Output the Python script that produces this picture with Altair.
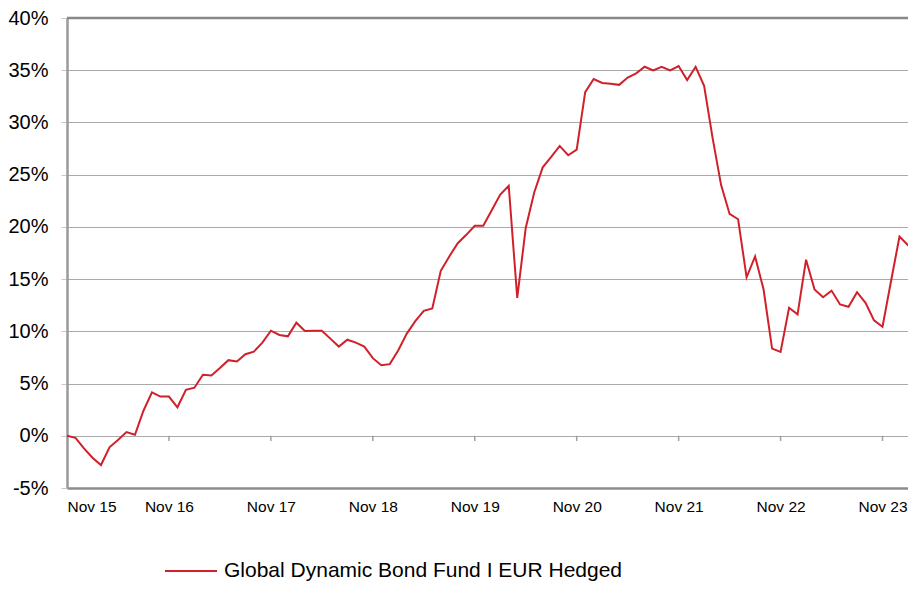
import altair as alt
import pandas as pd

# monthly cumulative performance (%), Nov 2015 .. Mar 2024
values = [
    0.0, -0.2, -1.2, -2.1, -2.8, -1.1, -0.4, 0.35, 0.1, 2.4,
    4.16, 3.75, 3.75, 2.73, 4.4, 4.6, 5.84, 5.78, 6.48, 7.24,
    7.11, 7.81, 8.06, 8.92, 10.06, 9.65, 9.52, 10.83, 10.03, 10.05,
    10.06, 9.3, 8.54, 9.2, 8.92, 8.54, 7.43, 6.76, 6.86, 8.19,
    9.78, 10.98, 11.97, 12.19, 15.8, 17.17, 18.44, 19.24, 20.1, 20.1,
    21.6, 23.1, 23.94, 13.2, 19.9, 23.3, 25.7, 26.7, 27.75, 26.86,
    27.4, 32.9, 34.16, 33.78, 33.7, 33.6, 34.3, 34.7, 35.33, 34.98,
    35.33, 34.98, 35.4, 34.06, 35.33, 33.5, 28.5, 24.0, 21.24, 20.73,
    15.17, 17.17, 14.0, 8.35, 8.03, 12.25, 11.62, 16.86, 14.0, 13.27,
    13.9, 12.57, 12.35, 13.75, 12.73, 11.05, 10.44, 14.8, 19.08, 18.25,
    18.25,
]
series_name = "Global Dynamic Bond Fund I EUR Hedged"
tick_months = [0, 12, 24, 36, 48, 60, 72, 84, 96]
tick_labels = ["Nov 15", "Nov 16", "Nov 17", "Nov 18", "Nov 19",
               "Nov 20", "Nov 21", "Nov 22", "Nov 23"]
y_ticks = [-5, 0, 5, 10, 15, 20, 25, 30, 35, 40]

df = pd.DataFrame({"m": list(range(len(values))), "v": values, "s": series_name})
ticks_df = pd.DataFrame({"m": tick_months[1:], "y0": 0, "y1": -0.5})
top_df = pd.DataFrame({"v": [40]})

label_expr = "{" + ",".join(f"'{m}':'{l}'" for m, l in zip(tick_months, tick_labels)) + "}[datum.value]"

xscale = alt.Scale(domain=[0, 99], nice=False, zero=False)
yscale = alt.Scale(domain=[-5, 40], nice=False)

line = alt.Chart(df).mark_line(strokeWidth=2, clip=True).encode(
    x=alt.X("m:Q", scale=xscale,
            axis=alt.Axis(values=tick_months, labelExpr=label_expr, title=None,
                          grid=False, ticks=False, domain=True, domainColor="#8c8c8c",
                          domainWidth=2.5, labelFontSize=15.5, labelPadding=11,
                          labelColor="#000", labelFont="Liberation Sans")),
    y=alt.Y("v:Q", scale=yscale,
            axis=alt.Axis(values=y_ticks, format="d", labelExpr="datum.value + '%'",
                          title=None, grid=True, gridColor="#aaaaaa", gridWidth=1,
                          ticks=True, tickSize=6, tickColor="#c8c8c8", domain=True,
                          domainColor="#9a9a9a", domainWidth=2.5, labelFontSize=20,
                          labelPadding=13, labelColor="#000", labelFont="Liberation Sans")),
    color=alt.Color("s:N", scale=alt.Scale(range=["#d0212a"]),
                    legend=alt.Legend(title=None, orient="none", legendX=97, legendY=526,
                                      symbolType="stroke", symbolSize=2704,
                                      symbolStrokeWidth=2, symbolStrokeColor="#d0212a",
                                      labelFontSize=21,
                                      labelFont="Liberation Sans", labelColor="#000",
                                      labelOffset=6, labelLimit=800)),
)

tick_marks = alt.Chart(ticks_df).mark_rule(color="#a0a0a0", strokeWidth=1.5).encode(
    x="m:Q", y="y0:Q", y2="y1:Q"
)

top_border = alt.Chart(top_df).mark_rule(color="#888888", strokeWidth=2.5).encode(
    y="v:Q"
)

chart = alt.layer(tick_marks, top_border, line).properties(
    width=841, height=470,
    padding={"left": 59, "top": 10, "right": 0, "bottom": 94},
    autosize=alt.AutoSizeParams(type="none"),
).configure_view(stroke=None).configure_axis(labelFont="Liberation Sans")

chart.save("out.html", embed_options={"renderer": "svg", "actions": False})
